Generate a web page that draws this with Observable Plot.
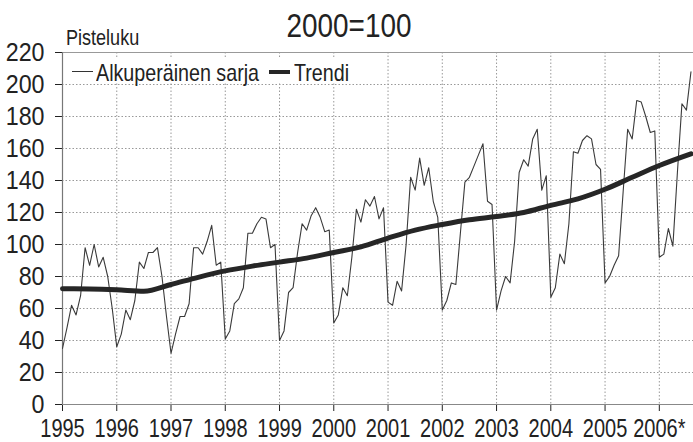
<!DOCTYPE html>
<html><head><meta charset="utf-8">
<script src="https://cdn.jsdelivr.net/npm/d3@7"></script>
<script src="https://cdn.jsdelivr.net/npm/@observablehq/plot@0.6"></script>
<style>
body{margin:0;background:#fff}
#wrap{position:relative;width:693px;height:442px;overflow:hidden;font-family:"Liberation Sans",Arial,sans-serif;color:#222;background:#fff}
#chart{position:absolute;left:0;top:0}
.t{position:absolute;line-height:1;white-space:nowrap;transform:scaleX(0.82);transform-origin:left center}
.title{left:0;width:698px;top:8px;text-align:center;font-size:34px;transform-origin:center center}
.ylab{left:66px;top:27px;font-size:22px}
.lbg{position:absolute;left:68px;top:59px;width:284px;height:24px;background:#fff}
.lt{top:61px;font-size:24px}
.ls{position:absolute;width:21px}
.thin{left:72px;top:71px;height:1px;background:#333}
.thick{left:269px;top:70px;height:4px;background:#262626}
</style></head><body>
<div id="wrap">
<div id="chart"></div>
<div class="t title">2000=100</div>
<div class="t ylab">Pisteluku</div>
<div class="lbg"></div>
<span class="ls thin"></span><span class="t lt" style="left:96px">Alkuperäinen sarja</span>
<span class="ls thick"></span><span class="t lt" style="left:294px">Trendi</span>
</div>
<script>
// Monthly original series (index 2000=100), Jan..Dec each year
const years = [1995,1996,1997,1998,1999,2000,2001,2002,2003,2004,2005,2006];
const s1995 = [35, 48, 62, 56, 68, 98, 87, 100, 86, 92, 80, 60];
const s1996 = [36, 44, 59, 53, 65, 89, 85, 95, 95, 98, 80, 55];
const s1997 = [32, 44, 55, 55, 63, 98, 98, 94, 102, 112, 87, 89];
const s1998 = [41, 46, 63, 66, 73, 107, 107, 113, 117, 116, 98, 100];
const s1999 = [40, 46, 70, 73, 95, 113, 109, 118, 123, 117, 108, 109];
const s2000 = [51, 56, 73, 68, 92, 122, 114, 128, 124, 130, 116, 123];
const s2001 = [64, 62, 77, 71, 100, 142, 134, 154, 137, 148, 127, 117];
const s2002 = [59, 65, 76, 75, 107, 139, 142, 149, 156, 163, 127, 125];
const s2003 = [59, 71, 80, 76, 102, 145, 153, 149, 166, 172, 134, 143];
const s2004 = [67, 73, 94, 88, 113, 158, 157, 165, 168, 166, 150, 147];
const s2005 = [76, 80, 87, 93, 133, 172, 166, 190, 189, 180, 170, 171];
const s2006 = [92, 94, 110, 99, 145, 188, 184, 208];
const seriesByYear = [s1995,s1996,s1997,s1998,s1999,s2000,s2001,s2002,s2003,s2004,s2005,s2006];

// Trend readings (time in years)
const trendT = [1995, 1995.5, 1996, 1996.5, 1997, 1997.5, 1998, 1998.5, 1999, 1999.5, 2000, 2000.5, 2001, 2001.5, 2002, 2002.5, 2003, 2003.5, 2004, 2004.5, 2005, 2005.5, 2006, 2006.583];
const trendV = [72.3, 72.2, 71.7, 70.8, 75, 79.5, 83.5, 86.5, 89, 91.5, 95, 98.5, 104, 109, 112.5, 115.5, 117.5, 120, 124.5, 128.5, 134.5, 142, 149.4, 156.7];

const xTicks = [1995,1996,1997,1998,1999,2000,2001,2002,2003,2004,2005,2006];
const xTickLabels = ["1995","1996","1997","1998","1999","2000","2001","2002","2003","2004","2005","2006*"];
const yTicks = [0,20,40,60,80,100,120,140,160,180,200,220];

const original = [];
years.forEach((y,i)=>seriesByYear[i].forEach((v,m)=>original.push({t:y+m/12, v})));
const trend = trendT.map((t,i)=>({t, v:trendV[i]}));

const chart = Plot.plot({
  width:693, height:442,
  marginTop:52, marginBottom:38, marginLeft:62, marginRight:0,
  style:{fontFamily:'"Liberation Sans",Arial,sans-serif', fontSize:"25px", color:"#222", background:"#fff", overflow:"visible"},
  x:{domain:[1995,2006.63], ticks:xTicks, tickFormat:d=>xTickLabels[xTicks.indexOf(d)], tickSize:7, tickPadding:8, label:null},
  y:{domain:[0,220], ticks:yTicks, tickSize:7, tickPadding:11, label:null},
  marks:[
    Plot.ruleX(xTicks.slice(1), {stroke:"#999", strokeWidth:1, strokeDasharray:"1.5,2"}),
    Plot.ruleY(yTicks.slice(1,-1), {stroke:"#999", strokeWidth:1, strokeDasharray:"1.5,2"}),
    Plot.ruleY([220], {stroke:"#999", strokeWidth:1.2}),
    Plot.ruleY([0], {stroke:"#888", strokeWidth:1.2}),
    Plot.ruleX([1995], {stroke:"#777", strokeWidth:1.2}),
    Plot.line(original, {x:"t", y:"v", stroke:"#3a3a3a", strokeWidth:1.1}),
    Plot.line(trend, {x:"t", y:"v", stroke:"#262626", strokeWidth:5, curve:"monotone-x"})
  ]
});
// condense axis labels horizontally (narrow typeface look); only x is affected by scaleX
const isNum = s => s != null && /^\s*-?[\d.]+\s*$/.test(s);
chart.querySelectorAll("text").forEach(t=>{
  const g = t.closest("[aria-label]");
  const isY = g && /y-axis/.test(g.getAttribute("aria-label"));
  const sx = isY ? 0.93 : 0.8;
  const xs = t.getAttribute("x");
  let x = 0;
  if (isNum(xs)) { x = +xs; t.removeAttribute("x"); }
  const tr = t.getAttribute("transform")||"";
  t.setAttribute("transform", `${tr} translate(${x},0) scale(${sx},1)`.trim());
});
document.getElementById("chart").appendChild(chart);
</script>
</body></html>
